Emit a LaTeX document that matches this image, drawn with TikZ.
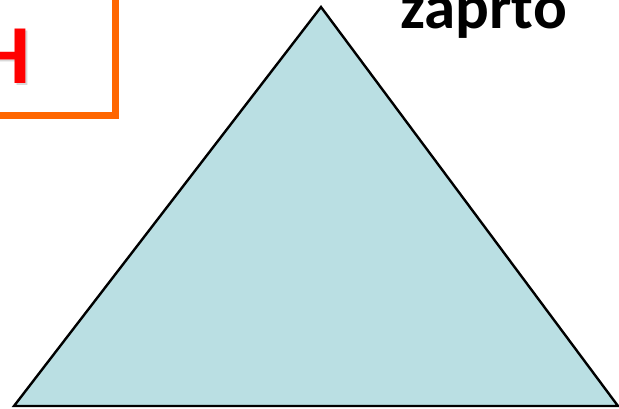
\documentclass[tikz,border=0pt]{standalone}
\usepackage{fontspec}
\setmainfont{Carlito}
\usetikzlibrary{positioning}
\definecolor{trifill}{RGB}{186,223,227}
\definecolor{boxorange}{RGB}{255,102,0}
\definecolor{hred}{RGB}{255,0,0}

\begin{document}
\begin{tikzpicture}[
    x=1pt, y=-1pt,
    tri/.style={draw=black, line width=2.4pt, fill=trifill, line join=miter},
    frame/.style={draw=boxorange, line width=7pt},
    bigtxt/.style={inner sep=0pt, font=\bfseries\fontsize{63}{63}\selectfont},
    htxt/.style={inner sep=0pt, font=\bfseries\fontsize{84}{84}\selectfont}
]
% canvas
\clip (0,0) rectangle (619,408);
\useasboundingbox (0,0) rectangle (619,408);

% orange frame with the letter (cut by the edge)
\draw[frame] (-200,-60) rectangle (115.5,115.5);
\node[htxt, text=black!15, anchor=base east] (hshadow) at (33,85) {H};
\node[htxt, text=hred, anchor=base east] (hletter) at (31,83) {H};

% label
\node[bigtxt, anchor=base west] (zaprto) at (400,28) {zaprto};

% triangle
\coordinate (apex) at (321,7);
\coordinate (baseL) at (14,406);
\coordinate (baseR) at (618,406);
\filldraw[tri] (apex) -- (baseR) -- (baseL) -- cycle;
\end{tikzpicture}
\end{document}
